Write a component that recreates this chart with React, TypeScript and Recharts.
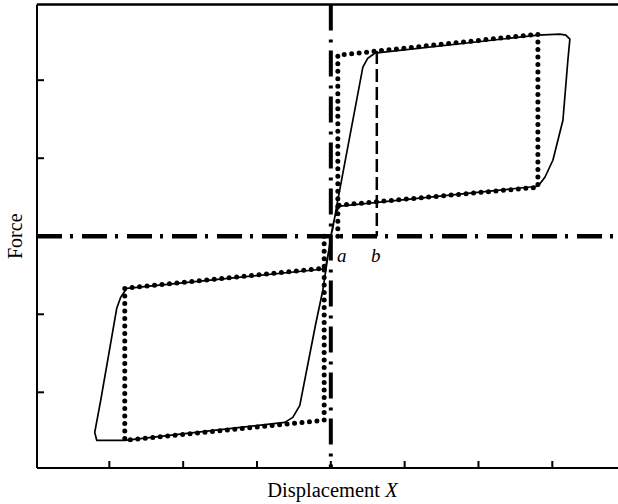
import { ComposedChart, Line, XAxis, YAxis, ReferenceLine, Scatter, Label } from "recharts"

const X_MIN = -3.98
const X_MAX = 3.89
const Y_MIN = -2.97
const Y_MAX = 2.97

const xTicks = [-3, -2, -1, 0, 1, 2, 3]
const yTicks = [-2, -1, 0, 1, 2]

// measured hysteresis curve (solid)
const measured = [
  { x: 0, y: 0 }, { x: 0.027, y: 0.103 }, { x: 0.081, y: 0.397 },
  { x: 0.434, y: 2.167 }, { x: 0.501, y: 2.282 }, { x: 0.596, y: 2.346 },
  { x: 2.805, y: 2.577 }, { x: 3.103, y: 2.59 }, { x: 3.184, y: 2.577 },
  { x: 3.238, y: 2.526 }, { x: 3.211, y: 2.256 }, { x: 3.144, y: 1.487 },
  { x: 3.008, y: 0.974 }, { x: 2.9, y: 0.756 }, { x: 2.805, y: 0.641 },
  { x: 0.122, y: 0.385 }, { x: 0.068, y: 0.308 }, { x: 0.027, y: 0.128 },
  { x: 0, y: 0 }, { x: -0.027, y: -0.179 }, { x: -0.068, y: -0.385 },
  { x: -0.122, y: -0.423 }, { x: -2.764, y: -0.667 }, { x: -2.846, y: -0.782 },
  { x: -2.9, y: -0.923 }, { x: -3.117, y: -2.103 }, { x: -3.198, y: -2.513 },
  { x: -3.171, y: -2.615 }, { x: -2.791, y: -2.615 }, { x: -0.623, y: -2.385 },
  { x: -0.515, y: -2.321 }, { x: -0.42, y: -2.167 }, { x: -0.203, y: -1.115 },
  { x: -0.108, y: -0.692 }, { x: -0.068, y: -0.436 }, { x: -0.027, y: -0.179 },
  { x: 0, y: 0 },
]

// idealized loop (dotted)
const idealUpper = [
  { x: 0.095, y: 0 }, { x: 0.095, y: 0.397 }, { x: 0.095, y: 2.321 },
  { x: 2.805, y: 2.59 }, { x: 2.805, y: 0.628 }, { x: 0.095, y: 0.397 },
]
const idealLower = [
  { x: -0.09, y: 0 }, { x: -0.09, y: -0.41 }, { x: -2.791, y: -0.667 },
  { x: -2.791, y: -2.615 }, { x: -0.09, y: -2.359 }, { x: -0.09, y: -0.41 },
]

const lineB = [{ x: 0.623, y: 2.373 }, { x: 0.623, y: 0 }]

const pointLabels = [
  { x: 0.149, y: 0, text: "a" },
  { x: 0.61, y: 0, text: "b" },
]

const FONT = "'Liberation Serif', 'DejaVu Serif', serif"

const XLabel = (props: any) => {
  const vb = props.viewBox
  return (
    <text x={vb.x + vb.width / 2 + 5} y={vb.y + 29} textAnchor="middle" fontFamily={FONT} fontSize={20.5} fill="#000">
      Displacement <tspan fontStyle="italic">X</tspan>
    </text>
  )
}

const YLabel = (props: any) => {
  const vb = props.viewBox
  const x = vb.x + 22
  const y = vb.y + vb.height / 2
  return (
    <text x={x} y={y} transform={`rotate(-90, ${x}, ${y})`} textAnchor="middle" fontFamily={FONT} fontSize={20} fill="#000">
      Force
    </text>
  )
}

// inward tick marks
const XTick = (props: any) => (
  <line x1={props.x} x2={props.x} y1={props.y} y2={props.y - 7} stroke="#000" strokeWidth={2} />
)
const YTick = (props: any) => (
  <line x1={props.x} x2={props.x + 7} y1={props.y} y2={props.y} stroke="#000" strokeWidth={2} />
)

const PointText = (props: any) => (
  <text x={props.cx} y={props.cy + 26} textAnchor="middle" fontFamily={FONT} fontStyle="italic" fontSize={19} fill="#000">
    {props.payload.text}
  </text>
)

export default function App() {
  return (
    <div>
      <style>{`body{margin:0;background:#fff}`}</style>
      <ComposedChart width={618} height={504} margin={{ top: 4.5, right: 0, left: 0, bottom: 0 }}>
        <XAxis
          type="number"
          dataKey="x"
          domain={[X_MIN, X_MAX]}
          ticks={xTicks}
          allowDataOverflow
          height={36}
          tick={XTick}
          tickSize={0}
          tickMargin={0}
          tickLine={false}
          axisLine={{ stroke: "#000", strokeWidth: 2 }}
        >
          <Label content={XLabel} />
        </XAxis>
        <YAxis
          type="number"
          domain={[Y_MIN, Y_MAX]}
          ticks={yTicks}
          allowDataOverflow
          width={37}
          tick={YTick}
          tickSize={0}
          tickMargin={0}
          tickLine={false}
          axisLine={{ stroke: "#000", strokeWidth: 2 }}
        >
          <Label content={YLabel} />
        </YAxis>
        <ReferenceLine y={Y_MAX} stroke="#000" strokeWidth={2.5} />
        <ReferenceLine y={0} stroke="#000" strokeWidth={4.5} strokeDasharray="25 8 3 9" />
        <ReferenceLine
          segment={[{ x: 0, y: Y_MAX }, { x: 0, y: Y_MIN }]}
          stroke="#000"
          strokeWidth={4}
          strokeDasharray="26 9 3 8"
        />
        <Line data={lineB} dataKey="y" type="linear" stroke="#000" strokeWidth={2.5} strokeDasharray="13 5" dot={false} isAnimationActive={false} />
        <Line
          data={idealUpper}
          dataKey="y"
          type="linear"
          stroke="#000"
          strokeWidth={5}
          strokeDasharray="0 7.5"
          strokeLinecap="round"
          dot={false}
          isAnimationActive={false}
        />
        <Line
          data={idealLower}
          dataKey="y"
          type="linear"
          stroke="#000"
          strokeWidth={5}
          strokeDasharray="0 7.5"
          strokeLinecap="round"
          dot={false}
          isAnimationActive={false}
        />
        <Line
          data={measured}
          dataKey="y"
          type="linear"
          stroke="#000"
          strokeWidth={1.7}
          strokeLinejoin="round"
          dot={false}
          isAnimationActive={false}
        />
        <Scatter data={pointLabels} dataKey="y" shape={PointText} isAnimationActive={false} />
      </ComposedChart>
    </div>
  )
}
